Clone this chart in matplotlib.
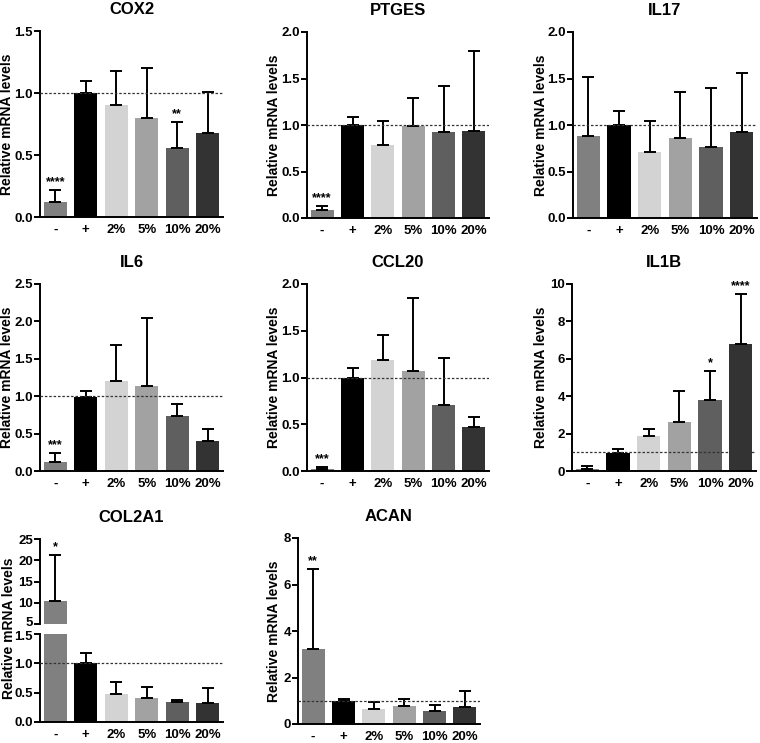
import matplotlib
matplotlib.use('Agg')
import matplotlib.pyplot as plt
import matplotlib.transforms as mtransforms
import numpy as np

plt.rcParams['font.family'] = ['Liberation Sans', 'DejaVu Sans']
plt.rcParams['font.weight'] = 'bold'
plt.rcParams['axes.labelweight'] = 'bold'
plt.rcParams['axes.titleweight'] = 'bold'

# groups and bar colours
groups = ['-', '+', '2%', '5%', '10%', '20%']
bar_colors = ['#808080', '#000000', '#d3d3d3', '#a2a2a2', '#5f5f5f', '#333333']

# means and SD (upper error)
cox2_mean = [0.12, 1.0, 0.906, 0.80, 0.555, 0.674]
cox2_sd = [0.096, 0.097, 0.272, 0.40, 0.208, 0.331]
cox2_stars = ['****', '', '', '', '**', '']

ptges_mean = [0.082, 1.0, 0.786, 0.99, 0.925, 0.936]
ptges_sd = [0.043, 0.09, 0.26, 0.30, 0.495, 0.864]
ptges_stars = ['****', '', '', '', '', '']

il17_mean = [0.88, 1.0, 0.707, 0.864, 0.768, 0.93]
il17_sd = [0.64, 0.146, 0.333, 0.486, 0.632, 0.627]
il17_stars = ['', '', '', '', '', '']

il6_mean = [0.116, 0.995, 1.20, 1.14, 0.73, 0.40]
il6_sd = [0.129, 0.075, 0.49, 0.91, 0.16, 0.16]
il6_stars = ['***', '', '', '', '', '']

ccl20_mean = [0.02, 1.0, 1.19, 1.07, 0.71, 0.475]
ccl20_sd = [0.023, 0.10, 0.26, 0.78, 0.50, 0.105]
ccl20_stars = ['***', '', '', '', '', '']

il1b_mean = [0.09, 0.95, 1.875, 2.625, 3.80, 6.77]
il1b_sd = [0.16, 0.23, 0.355, 1.675, 1.56, 2.71]
il1b_stars = ['', '', '', '', '*', '****']

col2a1_mean = [10.45, 1.0, 0.47, 0.41, 0.343, 0.326]
col2a1_sd = [10.85, 0.18, 0.21, 0.19, 0.035, 0.261]
col2a1_stars = ['*', '', '', '', '', '']

acan_mean = [3.22, 1.0, 0.66, 0.79, 0.57, 0.73]
acan_sd = [3.45, 0.07, 0.30, 0.30, 0.26, 0.67]
acan_stars = ['**', '', '', '', '', '']

W, H = 760, 743
TICK_FS = 9.5
LABEL_FS = 10
TITLE_FS = 12


def rect(left, top, right, bottom):
    # pixel box -> figure fraction
    return [left / W, 1 - bottom / H, (right - left) / W, (bottom - top) / H]


def style_axis(ax):
    ax.spines['top'].set_visible(False)
    ax.spines['right'].set_visible(False)
    ax.spines['left'].set_linewidth(1.4)
    ax.spines['bottom'].set_linewidth(1.4)
    ax.tick_params(axis='y', direction='out', length=4, width=1.4, labelsize=TICK_FS, pad=1)
    ax.tick_params(axis='x', length=0, labelsize=TICK_FS, pad=5)
    ax.set_xlim(-0.5, 5.5)


def draw_bars(ax, mean, sd, stars, star_off):
    x = np.arange(len(groups))
    ax.bar(x, mean, width=0.76, color=bar_colors, zorder=2)
    ax.errorbar(x, mean, yerr=[np.zeros(len(sd)), sd], fmt='none', ecolor='black',
                elinewidth=1.4, capsize=4.5, capthick=1.4, zorder=3)
    for i, s in enumerate(stars):
        if s:
            ax.text(x[i], mean[i] + sd[i] + star_off, s, ha='center', va='bottom',
                    fontsize=9, fontweight='bold', zorder=5)
    ax.axhline(1.0, color='#333333', lw=0.9, ls=(0, (2, 1.5)), zorder=4)


def panel(fig, box, label_x, title, mean, sd, stars, ymax, step, fmt):
    ax = fig.add_axes(rect(*box))
    draw_bars(ax, mean, sd, stars, ymax * 0.01)
    style_axis(ax)
    ax.set_ylim(0, ymax)
    ticks = np.arange(0, ymax + step / 2, step)
    ax.set_yticks(ticks)
    ax.set_yticklabels([fmt.format(t) for t in ticks])
    ax.set_xticks(np.arange(len(groups)))
    ax.set_xticklabels(groups)
    ax.set_title(title, fontsize=TITLE_FS, fontweight='bold', pad=12)
    ax.set_ylabel('Relative mRNA levels', fontsize=LABEL_FS)
    # label anchor is its right edge, so shift by half the text height
    ax.yaxis.set_label_coords((label_x + 6 - box[0]) / (box[2] - box[0]), 0.5)
    return ax


fig = plt.figure(figsize=(7.6, 7.43), dpi=100)

panel(fig, (40, 31, 223, 217), 8, 'COX2', cox2_mean, cox2_sd, cox2_stars, 1.5, 0.5, '{:.1f}')
panel(fig, (307, 32, 489, 218), 275, 'PTGES', ptges_mean, ptges_sd, ptges_stars, 2.0, 0.5, '{:.1f}')
panel(fig, (573, 32, 757, 218), 542, 'IL17', il17_mean, il17_sd, il17_stars, 2.0, 0.5, '{:.1f}')
panel(fig, (40, 284, 223, 471), 8, 'IL6', il6_mean, il6_sd, il6_stars, 2.5, 0.5, '{:.1f}')
panel(fig, (307, 284, 489, 471), 275, 'CCL20', ccl20_mean, ccl20_sd, ccl20_stars, 2.0, 0.5, '{:.1f}')
panel(fig, (572, 284, 756, 471), 542, 'IL1B', il1b_mean, il1b_sd, il1b_stars, 10, 2, '{:.0f}')
panel(fig, (298, 538, 480, 724), 275, 'ACAN', acan_mean, acan_sd, acan_stars, 8, 2, '{:.0f}')

# COL2A1 with broken y axis
ax_hi = fig.add_axes(rect(40, 539, 223, 624))
ax_lo = fig.add_axes(rect(40, 634, 223, 722))
draw_bars(ax_hi, col2a1_mean, col2a1_sd, col2a1_stars, 0.3)
draw_bars(ax_lo, col2a1_mean, col2a1_sd, ['', '', '', '', '', ''], 0.02)
for ax in (ax_hi, ax_lo):
    style_axis(ax)
ax_hi.set_ylim(5, 25)
ax_hi.set_yticks([5, 10, 15, 20, 25])
ax_hi.spines['bottom'].set_visible(False)
ax_hi.set_xticks([])
ax_lo.set_ylim(0, 1.5)
ax_lo.set_yticks([0, 0.5, 1.0, 1.5])
ax_lo.set_yticklabels(['0.0', '0.5', '1.0', '1.5'])
ax_lo.set_xticks(np.arange(len(groups)))
ax_lo.set_xticklabels(groups)
ax_hi.set_title('COL2A1', fontsize=TITLE_FS, fontweight='bold', pad=12)

# nudge the two labels at the break apart a little
up = mtransforms.ScaledTranslation(0, 2.5 / 100, fig.dpi_scale_trans)
down = mtransforms.ScaledTranslation(0, -1.5 / 100, fig.dpi_scale_trans)
lbl = ax_hi.yaxis.get_major_ticks()[0].label1
lbl.set_transform(lbl.get_transform() + up)
lbl = ax_lo.yaxis.get_major_ticks()[-1].label1
lbl.set_transform(lbl.get_transform() + down)

fig.text(9 / W, 1 - 628 / H, 'Relative mRNA levels', rotation=90, ha='center', va='center',
         fontsize=LABEL_FS, fontweight='bold')

fig.savefig('out.png', dpi=100)
